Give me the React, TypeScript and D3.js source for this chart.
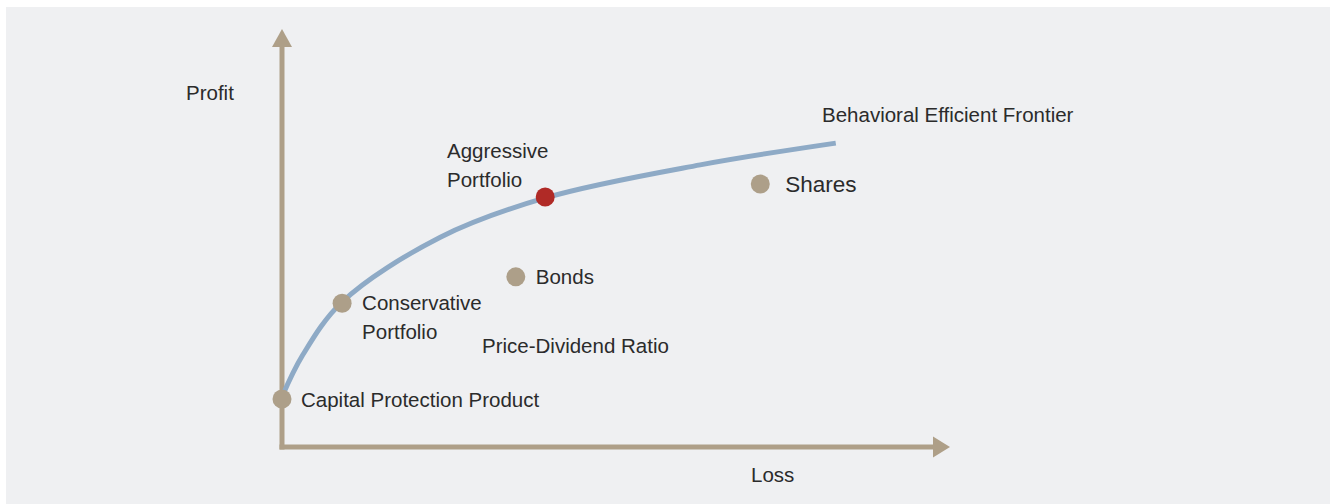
import React from "react";
import * as d3 from "d3";

const W = 1330;
const H = 504;

// Frontier curve (loss, profit) in abstract units
const frontierLoss = [0, 0.31, 0.9, 2.37, 3.94, 6.26, 8.29];
const frontierProfit = [1.2, 2.2, 3.47, 5.02, 5.96, 6.75, 7.27];

// Points
const pointNames = ["Capital Protection Product", "Conservative Portfolio", "Aggressive Portfolio", "Bonds", "Shares"];
const pointLoss = [0, 0.9, 3.94, 3.5, 7.16];
const pointProfit = [1.15, 3.44, 5.98, 4.07, 6.29];
const pointHighlight = [false, false, true, false, false];

const FONT = "'Liberation Sans', Arial, sans-serif";
const TEXT = "#2b2b2b";
const AXIS = "#ae9f88";
const CURVE = "#8eaac6";
const RED = "#b02a26";
const DOT = "#ad9f89";

export default function App() {
  const x = d3.scaleLinear().domain([0, 10]).range([282, 950]);
  const y = d3.scaleLinear().domain([0, 10]).range([447, 29]);

  const frontier = frontierLoss.map((l, i) => [l, frontierProfit[i]] as [number, number]);
  const line = d3
    .line<[number, number]>()
    .x((d) => x(d[0]))
    .y((d) => y(d[1]))
    .curve(d3.curveCatmullRom.alpha(0.5));

  const x0 = x(0);
  const y0 = y(0);
  const xEnd = x(10);
  const yTop = y(10);

  const labelPos = (i: number) => ({ cx: x(pointLoss[i]), cy: y(pointProfit[i]) });

  return (
    <svg
      width={W}
      height={H}
      style={{ position: "absolute", left: 0, top: 0 }}
      fontFamily={FONT}
    >
      <rect x={6} y={7} width={W - 6} height={H - 7} fill="#eff0f2" />

      {/* axes */}
      <line x1={x0} y1={y0 + 2.5} x2={x0} y2={yTop + 16} stroke={AXIS} strokeWidth={5} />
      <path d={`M${x0 - 10},${yTop + 18} L${x0},${yTop} L${x0 + 10},${yTop + 18} Z`} fill={AXIS} />
      <line x1={x0 - 2.5} y1={y0} x2={xEnd - 15} y2={y0} stroke={AXIS} strokeWidth={5} />
      <path d={`M${xEnd - 17},${y0 - 10.5} L${xEnd},${y0} L${xEnd - 17},${y0 + 10.5} Z`} fill={AXIS} />

      {/* frontier */}
      <path d={line(frontier) || ""} fill="none" stroke={CURVE} strokeWidth={5} />

      {/* points */}
      {pointNames.map((n, i) => {
        const p = labelPos(i);
        return <circle key={n} cx={p.cx} cy={p.cy} r={9.5} fill={pointHighlight[i] ? RED : DOT} />;
      })}

      {/* labels */}
      <g fill={TEXT} fontSize={20.5}>
        <text x={186} y={100}>Profit</text>
        <text x={751} y={482}>Loss</text>
        <text x={822} y={122}>Behavioral Efficient Frontier</text>
        <text x={labelPos(0).cx + 19} y={labelPos(0).cy + 8}>Capital Protection Product</text>
        <text x={labelPos(1).cx + 20} y={labelPos(1).cy + 7}>Conservative</text>
        <text x={labelPos(1).cx + 20} y={labelPos(1).cy + 36}>Portfolio</text>
        <text x={447} y={158}>Aggressive</text>
        <text x={447} y={187}>Portfolio</text>
        <text x={labelPos(3).cx + 20} y={labelPos(3).cy + 7}>Bonds</text>
        <text x={482} y={353}>Price-Dividend Ratio</text>
        <text x={labelPos(4).cx + 25} y={labelPos(4).cy + 8} fontSize={22.5}>Shares</text>
      </g>
    </svg>
  );
}
